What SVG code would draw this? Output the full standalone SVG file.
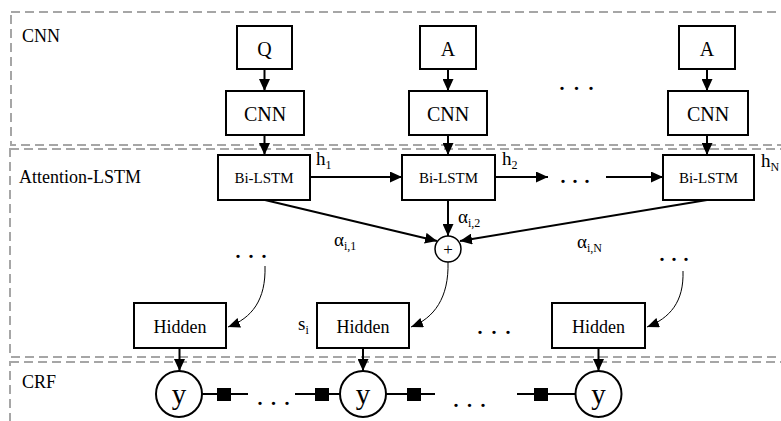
<svg xmlns="http://www.w3.org/2000/svg" width="781" height="421" viewBox="0 0 781 421" font-family="'Liberation Serif', 'Times New Roman', serif">
<style>
text{font-family:'Liberation Serif','Times New Roman',serif;fill:#000}
.region{fill:none;stroke:#a6a6a6;stroke-width:2;stroke-dasharray:9 5}
.box{fill:#fff;stroke:#000;stroke-width:2}
.thick{fill:none;stroke:#000;stroke-width:2}
.thin{fill:none;stroke:#000;stroke-width:1}
.c{text-anchor:middle}
.dots{font-size:28px}
.lbl{font-size:18px}
.sub{font-size:12px}
.math{font-size:19px}
</style>
<defs>
<marker id="ah" markerUnits="userSpaceOnUse" markerWidth="13" markerHeight="11" refX="12" refY="5.5" orient="auto">
<path d="M0,0 L12,5.5 L0,11 Z" fill="#000"/>
</marker>
<marker id="ahs" markerUnits="userSpaceOnUse" markerWidth="13" markerHeight="10" refX="12" refY="5" orient="auto">
<path d="M0,0 L12,5 L0,10 Z" fill="#000"/>
</marker>
</defs>

<g id="regions">
<rect class="region" x="11" y="12" width="790" height="133"/>
<rect class="region" x="10" y="149" width="790" height="208"/>
<rect class="region" x="10" y="362" width="790" height="80"/>
<text class="lbl" x="22" y="42">CNN</text>
<text class="lbl" x="19" y="183">Attention-LSTM</text>
<text class="lbl" x="22" y="388">CRF</text>
</g>

<g id="connectors">
<line class="thick" x1="264.5" y1="69" x2="264.5" y2="91" marker-end="url(#ah)"/>
<line class="thick" x1="448" y1="69" x2="448" y2="91" marker-end="url(#ah)"/>
<line class="thick" x1="707" y1="69" x2="707" y2="91" marker-end="url(#ah)"/>
<line class="thick" x1="264.5" y1="135" x2="264.5" y2="155" marker-end="url(#ah)"/>
<line class="thick" x1="448" y1="135" x2="448" y2="155" marker-end="url(#ah)"/>
<line class="thick" x1="707" y1="135" x2="707" y2="155" marker-end="url(#ah)"/>
<line class="thick" x1="310" y1="177" x2="402" y2="177" marker-end="url(#ah)"/>
<line class="thick" x1="495" y1="177" x2="548" y2="177" marker-end="url(#ah)"/>
<line class="thick" x1="606" y1="177" x2="663" y2="177" marker-end="url(#ah)"/>
<line class="thick" x1="448" y1="200" x2="448" y2="236" marker-end="url(#ah)"/>
<line class="thick" x1="265" y1="200" x2="437" y2="241" marker-end="url(#ah)"/>
<line class="thick" x1="707" y1="200" x2="460" y2="241" marker-end="url(#ah)"/>
<path class="thin" d="M265,266 C266,300 252,318 228,327" marker-end="url(#ahs)"/>
<path class="thin" d="M448,262 C449,298 434,318 411,327" marker-end="url(#ahs)"/>
<path class="thin" d="M683,271 C684,302 670,318 647,327" marker-end="url(#ahs)"/>
<line class="thick" x1="179.5" y1="348" x2="179.5" y2="371" marker-end="url(#ah)"/>
<line class="thick" x1="363" y1="348" x2="363" y2="371" marker-end="url(#ah)"/>
<line class="thick" x1="598.5" y1="348" x2="598.5" y2="371" marker-end="url(#ah)"/>
<line class="thick" x1="202" y1="394" x2="248" y2="394"/>
<line class="thick" x1="295" y1="394" x2="340" y2="394"/>
<line class="thick" x1="386" y1="394" x2="435" y2="394"/>
<line class="thick" x1="517" y1="394" x2="575" y2="394"/>
<rect x="217" y="388" width="14" height="13" fill="#000"/>
<rect x="315" y="388" width="14" height="13" fill="#000"/>
<rect x="407" y="388" width="14" height="13" fill="#000"/>
<rect x="534" y="388" width="14" height="13" fill="#000"/>
</g>

<g id="q1"><rect class="box" x="237" y="26" width="55" height="43"/><text class="c" x="264.5" y="56" font-size="20">Q</text></g>
<g id="a2"><rect class="box" x="420" y="26" width="56" height="43"/><text class="c" x="448" y="56" font-size="20">A</text></g>
<g id="a3"><rect class="box" x="679" y="26" width="56" height="43"/><text class="c" x="707" y="56" font-size="20">A</text></g>

<g id="cnn1"><rect class="box" x="226" y="91" width="78" height="44"/><text class="c" x="265" y="121" font-size="20">CNN</text></g>
<g id="cnn2"><rect class="box" x="409" y="91" width="78" height="44"/><text class="c" x="448" y="121" font-size="20">CNN</text></g>
<g id="cnn3"><rect class="box" x="668" y="91" width="80" height="44"/><text class="c" x="708" y="121" font-size="20">CNN</text></g>

<g id="lstm1"><rect class="box" x="218" y="155" width="92" height="45"/><text class="c" x="264" y="183" font-size="15">Bi-LSTM</text></g>
<g id="lstm2"><rect class="box" x="402" y="155" width="93" height="45"/><text class="c" x="448.5" y="183" font-size="15">Bi-LSTM</text></g>
<g id="lstm3"><rect class="box" x="663" y="155" width="91" height="45"/><text class="c" x="708.5" y="183" font-size="15">Bi-LSTM</text></g>

<g id="plus"><circle cx="448" cy="249" r="13" fill="#fff" stroke="#000" stroke-width="1.5"/><text class="c" x="448" y="255" font-size="17">+</text></g>

<g id="hidden1"><rect class="box" x="134" y="303" width="92" height="45"/><text class="c" x="180" y="333" font-size="18">Hidden</text></g>
<g id="hidden2"><rect class="box" x="317" y="303" width="92" height="45"/><text class="c" x="363" y="333" font-size="18">Hidden</text></g>
<g id="hidden3"><rect class="box" x="552" y="303" width="93" height="45"/><text class="c" x="598.5" y="333" font-size="18">Hidden</text></g>

<g id="y1"><circle cx="179" cy="394" r="23" fill="#fff" stroke="#000" stroke-width="2"/><text class="c" x="179" y="404" font-size="29">y</text></g>
<g id="y2"><circle cx="363" cy="394" r="23" fill="#fff" stroke="#000" stroke-width="2"/><text class="c" x="363" y="404" font-size="29">y</text></g>
<g id="y3"><circle cx="598.5" cy="394" r="23" fill="#fff" stroke="#000" stroke-width="2"/><text class="c" x="598.5" y="404" font-size="29">y</text></g>

<g id="labels">
<text class="math" x="316" y="165">h<tspan class="sub" dy="4">1</tspan></text>
<text class="math" x="502" y="165">h<tspan class="sub" dy="4">2</tspan></text>
<text class="math" x="761" y="167">h<tspan class="sub" dy="4">N</tspan></text>
<text class="math" x="334" y="246">α<tspan class="sub" dy="4">i,1</tspan></text>
<text class="math" x="458" y="223">α<tspan class="sub" dy="4">i,2</tspan></text>
<text class="math" x="577" y="248">α<tspan class="sub" dy="4">i,N</tspan></text>
<text class="math" x="298" y="330" font-size="18">s<tspan class="sub" dy="4">i</tspan></text>
</g>

<g id="ellipses">
<text class="dots" x="558.5" y="89.5" letter-spacing="7.5">...</text>
<text class="dots" x="559.5" y="183" letter-spacing="5">...</text>
<text class="dots" x="234.5" y="258" letter-spacing="6">...</text>
<text class="dots" x="658.5" y="261" letter-spacing="5">...</text>
<text class="dots" x="476.5" y="334" letter-spacing="7">...</text>
<text class="dots" x="256.5" y="405" letter-spacing="6.5">...</text>
<text class="dots" x="452.5" y="407" letter-spacing="6.5">...</text>
</g>
</svg>
